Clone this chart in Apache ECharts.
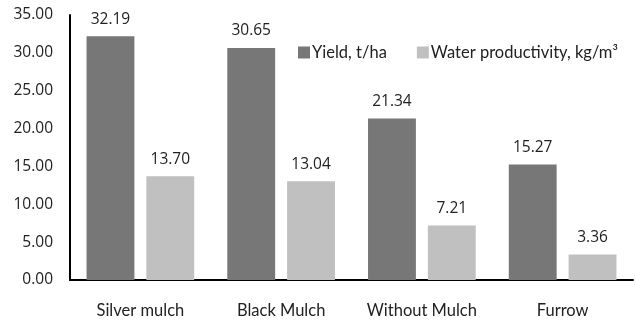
<!DOCTYPE html>
<html>
<head>
<meta charset="utf-8">
<script src="https://cdn.jsdelivr.net/npm/echarts@6/dist/echarts.min.js"></script>
<style>
  html, body { margin: 0; padding: 0; background: #fff; }
  #chart { width: 635px; height: 322px; }
</style>
</head>
<body>
<div id="chart"></div>
<script>
// Treatments on the x axis
const categories = ['Silver mulch', 'Black Mulch', 'Without Mulch', 'Furrow'];
// Yield per treatment, t/ha
const yieldValues = [32.19, 30.65, 21.34, 15.27];
// Water productivity per treatment, kg/m³
const waterProductivity = [13.70, 13.04, 7.21, 3.36];
const seriesNames = ['Yield, t/ha', 'Water productivity, kg/m³'];

const WORD_FONT = 'Lato, "Open Sans", sans-serif';
const NUM_FONT = '"Open Sans", Lato, sans-serif';
const TEXT = '#222';

const chart = echarts.init(document.getElementById('chart'), null, { renderer: 'canvas' });

const labelStyle = {
  show: true,
  position: 'top',
  distance: 9,
  color: TEXT,
  fontFamily: NUM_FONT,
  fontSize: 15.5,
  formatter: p => p.value.toFixed(2)
};

chart.setOption({
  animation: false,
  backgroundColor: '#fff',
  textStyle: { fontFamily: WORD_FONT },
  grid: { left: 70, right: 2, top: 15, bottom: 42, containLabel: false },
  legend: {
    left: 293,
    top: 39,
    itemWidth: 12,
    itemHeight: 12,
    itemGap: 30,
    icon: 'rect',
    textStyle: { color: TEXT, fontFamily: WORD_FONT, fontSize: 16.5, padding: [0, 0, 0, -3] },
    data: seriesNames
  },
  xAxis: {
    type: 'category',
    data: categories,
    axisLine: { lineStyle: { color: '#000', width: 2 } },
    axisTick: { show: false },
    axisLabel: { color: TEXT, fontFamily: WORD_FONT, fontSize: 16.5, margin: 22, interval: 0 }
  },
  yAxis: {
    type: 'value',
    min: 0,
    max: 35,
    interval: 5,
    axisLine: { show: true, lineStyle: { color: '#000', width: 2 } },
    axisTick: { show: false },
    splitLine: { show: false },
    axisLabel: {
      color: TEXT,
      fontFamily: NUM_FONT,
      fontSize: 15.5,
      margin: 17,
      formatter: v => v.toFixed(2)
    }
  },
  series: [
    {
      name: seriesNames[0],
      type: 'bar',
      data: yieldValues,
      barWidth: '34%',
      barGap: '25%',
      itemStyle: { color: '#767776' },
      label: labelStyle
    },
    {
      name: seriesNames[1],
      type: 'bar',
      data: waterProductivity,
      barWidth: '34%',
      itemStyle: { color: '#c0c0c0' },
      label: labelStyle
    }
  ]
});
</script>
</body>
</html>
